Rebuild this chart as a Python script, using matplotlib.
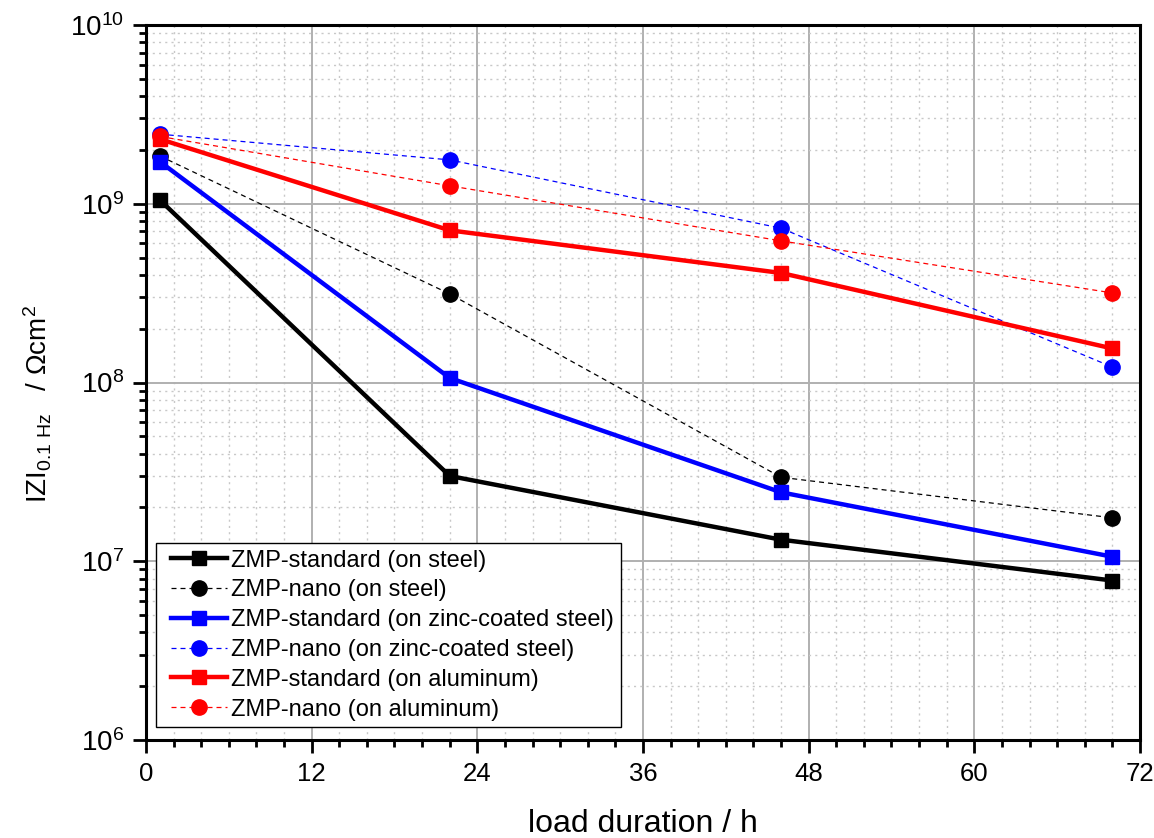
import matplotlib
matplotlib.use("Agg")
import matplotlib.pyplot as plt
from matplotlib.ticker import MultipleLocator, LogLocator, NullFormatter
from matplotlib.lines import Line2D
from matplotlib.legend_handler import HandlerLine2D

plt.rcParams['font.family'] = ['Liberation Sans', 'DejaVu Sans']
plt.rcParams['mathtext.fontset'] = 'custom'
plt.rcParams['mathtext.rm'] = 'Liberation Sans'
plt.rcParams['mathtext.it'] = 'Liberation Sans:italic'
plt.rcParams['mathtext.bf'] = 'Liberation Sans:bold'

# load duration in hours
hours = [1, 22, 46, 70]

# |Z| at 0.1 Hz in Ohm cm^2
std_steel = [1.05e9, 3.0e7, 1.32e7, 7.8e6]
nano_steel = [1.85e9, 3.13e8, 2.95e7, 1.75e7]
std_zinc = [1.72e9, 1.06e8, 2.43e7, 1.06e7]
nano_zinc = [2.45e9, 1.76e9, 7.3e8, 1.22e8]
std_alu = [2.3e9, 7.1e8, 4.1e8, 1.55e8]
nano_alu = [2.38e9, 1.26e9, 6.2e8, 3.17e8]

labels = ['ZMP-standard (on steel)', 'ZMP-nano (on steel)',
          'ZMP-standard (on zinc-coated steel)', 'ZMP-nano (on zinc-coated steel)',
          'ZMP-standard (on aluminum)', 'ZMP-nano (on aluminum)']

fig = plt.figure(figsize=(11.54, 8.38), dpi=100)
ax = fig.add_axes([146/1154, 1 - 740/838, 994/1154, 715/838])

series = [(std_steel, 'black', 'std'), (nano_steel, 'black', 'nano'),
          (std_zinc, '#0000ff', 'std'), (nano_zinc, '#0000ff', 'nano'),
          (std_alu, '#ff0000', 'std'), (nano_alu, '#ff0000', 'nano')]

for (vals, col, kind), lab in zip(series, labels):
    if kind == 'std':
        ax.plot(hours, vals, color=col, lw=3.2, marker='s', ms=9.5,
                mec=col, mfc=col, label=lab, zorder=3)
    else:
        ax.plot(hours, vals, color=col, lw=0.9, ls=(0, (4, 3.2)), marker='o', ms=11,
                mec=col, mfc=col, label=lab, zorder=3)

ax.set_yscale('log')
ax.set_xlim(0, 72)
ax.set_ylim(1e6, 1e10)
ax.xaxis.set_major_locator(MultipleLocator(12))
ax.xaxis.set_minor_locator(MultipleLocator(2))
ax.yaxis.set_major_locator(LogLocator(base=10, numticks=10))
ax.yaxis.set_minor_locator(LogLocator(base=10, subs=range(2, 10), numticks=20))
ax.yaxis.set_minor_formatter(NullFormatter())

ax.grid(True, which='major', color='#b0b0b0', lw=1.4, ls='-', zorder=0)
ax.grid(True, which='minor', color='#c8c8c8', lw=1.0, ls=(0, (1.5, 3)), zorder=0)
ax.set_axisbelow(True)

for s in ax.spines.values():
    s.set_linewidth(2.2)
ax.tick_params(which='both', direction='out', width=2, top=False, right=False)
ax.tick_params(which='major', length=9.5, pad=6)
ax.tick_params(which='minor', length=5)
ax.tick_params(axis='x', which='major', labelsize=18.5)
ax.tick_params(axis='y', which='major', labelsize=20)

ax.set_xlabel('load duration / h', fontsize=23)
ax.xaxis.set_label_coords(0.5, -0.129)
ax.xaxis.label.set_va('baseline')
ax.set_ylabel(r'IZI$_{\mathdefault{0.1\ Hz}}$   / Ωcm$^{\mathdefault{2}}$', fontsize=20)
ax.yaxis.set_label_coords(-0.093, 0.47)

leg = ax.legend(loc='lower left', bbox_to_anchor=(0.01, 0.018), borderaxespad=0,
                fontsize=17, frameon=True, fancybox=False, edgecolor='black',
                framealpha=1, handlelength=2.75, handletextpad=0.17,
                labelspacing=0.33, borderpad=0.28,
                handler_map={Line2D: HandlerLine2D(xpad=0.35)})
leg.get_frame().set_linewidth(1.0)

fig.savefig('out.png', dpi=100)
